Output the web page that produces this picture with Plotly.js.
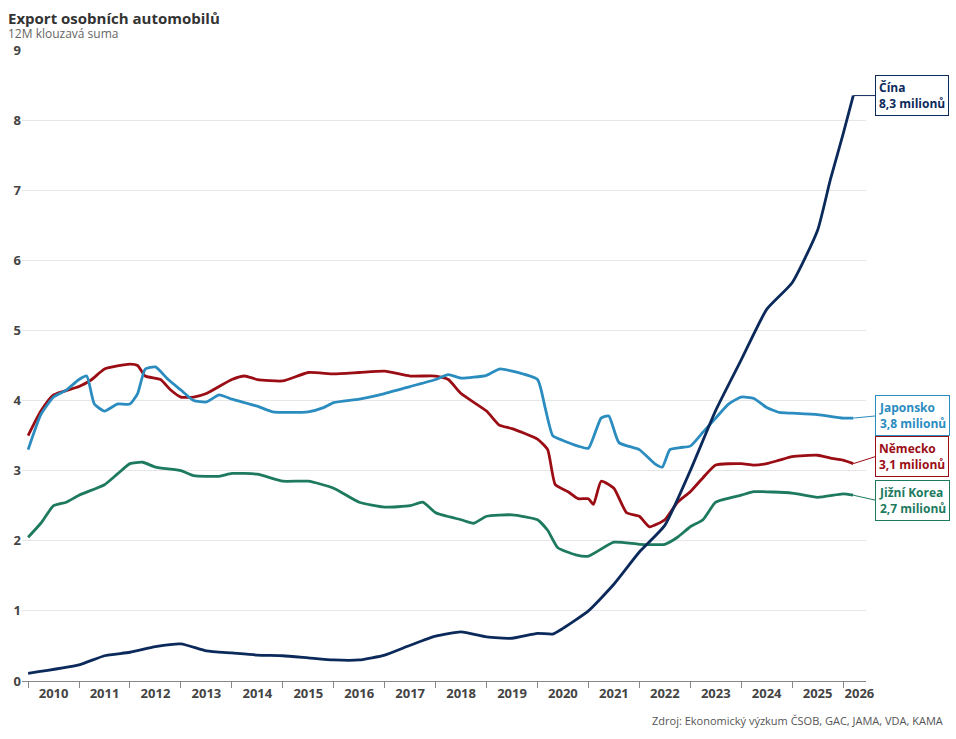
<!DOCTYPE html>
<html><head><meta charset="utf-8">
<script src="https://cdn.plot.ly/plotly-3.0.1.min.js"></script>
<style>body{margin:0}#chart{width:956px;height:739px}</style>
</head><body><div id="chart"></div>
<script>
// decimal years, 12M rolling sums in millions
var chinaX = [2010.0,2011.0,2011.5,2012.0,2012.5,2013.0,2013.5,2014.0,2014.5,2015.0,2015.5,2016.0,2016.5,2017.0,2017.5,2018.0,2018.5,2019.0,2019.5,2020.0,2020.3,2020.5,2021.0,2021.5,2022.0,2022.5,2023.0,2023.5,2024.0,2024.5,2025.0,2025.5,2025.75,2026.0,2026.2];
var chinaY = [0.11,0.23,0.36,0.41,0.49,0.53,0.43,0.40,0.37,0.36,0.33,0.30,0.30,0.37,0.51,0.64,0.70,0.63,0.61,0.68,0.67,0.75,1.0,1.38,1.84,2.22,3.0,3.86,4.58,5.3,5.68,6.43,7.15,7.8,8.35];

var japanX = [2010.0,2010.25,2010.5,2010.75,2011.0,2011.15,2011.3,2011.5,2011.75,2012.0,2012.15,2012.3,2012.5,2012.75,2013.0,2013.25,2013.5,2013.75,2014.0,2014.5,2014.8,2015.5,2015.8,2016.0,2016.5,2017.0,2017.5,2018.0,2018.25,2018.5,2019.0,2019.25,2019.5,2020.0,2020.15,2020.3,2020.5,2020.8,2021.0,2021.25,2021.4,2021.6,2022.0,2022.3,2022.45,2022.6,2022.8,2023.0,2023.25,2023.5,2023.75,2024.0,2024.25,2024.5,2024.75,2025.0,2025.5,2026.0,2026.2];
var japanY = [3.3,3.8,4.05,4.15,4.3,4.35,3.95,3.85,3.95,3.95,4.1,4.45,4.48,4.3,4.15,4.0,3.98,4.08,4.02,3.92,3.84,3.84,3.9,3.97,4.02,4.1,4.2,4.3,4.37,4.32,4.36,4.45,4.42,4.3,3.9,3.5,3.43,3.35,3.32,3.75,3.78,3.4,3.3,3.1,3.05,3.3,3.33,3.35,3.55,3.75,3.95,4.05,4.03,3.9,3.83,3.82,3.8,3.75,3.75];

var germanyX = [2010.0,2010.25,2010.5,2011.0,2011.25,2011.5,2012.0,2012.15,2012.3,2012.6,2012.8,2013.0,2013.25,2013.5,2014.0,2014.25,2014.5,2015.0,2015.5,2016.0,2016.5,2017.0,2017.5,2018.0,2018.25,2018.5,2019.0,2019.25,2019.5,2020.0,2020.2,2020.35,2020.6,2020.8,2021.0,2021.1,2021.25,2021.5,2021.75,2022.0,2022.2,2022.5,2022.75,2023.0,2023.25,2023.5,2024.0,2024.25,2024.5,2024.75,2025.0,2025.5,2025.75,2026.0,2026.2];
var germanyY = [3.5,3.85,4.08,4.2,4.3,4.45,4.52,4.5,4.35,4.3,4.15,4.05,4.05,4.1,4.3,4.35,4.3,4.28,4.4,4.38,4.4,4.42,4.35,4.35,4.3,4.1,3.85,3.65,3.6,3.45,3.3,2.8,2.7,2.6,2.6,2.52,2.85,2.75,2.4,2.35,2.2,2.3,2.55,2.7,2.9,3.08,3.1,3.08,3.1,3.15,3.2,3.22,3.18,3.15,3.1];

var koreaX = [2010.0,2010.25,2010.5,2010.75,2011.0,2011.5,2011.75,2012.0,2012.25,2012.5,2013.0,2013.25,2013.75,2014.0,2014.5,2015.0,2015.5,2016.0,2016.5,2017.0,2017.5,2017.75,2018.0,2018.5,2018.75,2019.0,2019.5,2020.0,2020.2,2020.4,2020.75,2021.0,2021.5,2022.0,2022.5,2022.75,2023.0,2023.25,2023.5,2024.0,2024.25,2025.0,2025.5,2026.0,2026.2];
var koreaY = [2.05,2.25,2.5,2.55,2.65,2.8,2.95,3.1,3.12,3.05,3.0,2.93,2.92,2.96,2.95,2.85,2.85,2.75,2.55,2.48,2.5,2.55,2.4,2.3,2.25,2.35,2.37,2.3,2.15,1.9,1.8,1.78,1.98,1.95,1.95,2.05,2.2,2.3,2.55,2.65,2.7,2.68,2.62,2.67,2.65];

var years = [2010,2011,2012,2013,2014,2015,2016,2017,2018,2019,2020,2021,2022,2023,2024,2025,2026];
var labels = [
  {name:'Čína', text:'8,3 milionů', color:'#0b2a5b', y:8.35, ly:8.35, ax:22},
  {name:'Japonsko', text:'3,8 milionů', color:'#2b8cbf', y:3.75, ly:3.78, ax:22},
  {name:'Německo', text:'3,1 milionů', color:'#9b0d14', y:3.1, ly:3.2, ax:22},
  {name:'Jižní Korea', text:'2,7 milionů', color:'#1d7a5e', y:2.65, ly:2.58, ax:22}
];

function line(x, y, c) {
  return {x: x, y: y, type: 'scatter', mode: 'lines', line: {color: c, width: 2.8, shape: 'spline', smoothing: 0.5}, hoverinfo: 'skip'};
}
var data = [line(koreaX, koreaY, '#1d7a5e'), line(germanyX, germanyY, '#9b0d14'), line(japanX, japanY, '#2b8cbf'), line(chinaX, chinaY, '#0b2a5b')];

var yscale = 70.1;
var annotations = labels.map(function (l) {
  return {
    x: 2026.2, y: l.y, xref: 'x', yref: 'y',
    text: '<b>' + l.name + '<br>' + l.text + '</b>',
    showarrow: true, arrowhead: 0, arrowwidth: 1, arrowcolor: l.color,
    ax: l.ax, ay: -(l.ly - l.y) * yscale, xanchor: 'left', align: 'left',
    font: {color: l.color, size: 12}, bordercolor: l.color, borderwidth: 1,
    borderpad: 3, bgcolor: '#fff'
  };
});
annotations.push({xref: 'paper', yref: 'paper', x: 1.094, y: -0.062, xanchor: 'right', yanchor: 'middle', showarrow: false,
  text: 'Zdroj: Ekonomický výzkum ČSOB, GAC, JAMA, VDA, KAMA', font: {size: 11, color: '#555'}});
annotations.push({xref: 'paper', yref: 'paper', x: -0.019, y: 1.05, xanchor: 'left', yanchor: 'middle', showarrow: false,
  text: '<b>Export osobních automobilů</b>', font: {size: 15, color: '#333'}});
annotations.push({xref: 'paper', yref: 'paper', x: -0.019, y: 1.026, xanchor: 'left', yanchor: 'middle', showarrow: false,
  text: '12M klouzavá suma', font: {size: 12, color: '#666'}});

var layout = {
  width: 956, height: 739,
  margin: {l: 22, r: 90, t: 50, b: 58},
  paper_bgcolor: '#fff', plot_bgcolor: '#fff',
  font: {family: 'Open Sans, sans-serif', color: '#444'},
  showlegend: false,
  xaxis: {
    range: [2009.88, 2026.45],
    tickmode: 'array',
    tickvals: years.map(function (y) { return y === 2026 ? 2026.32 : y + 0.5; }),
    ticktext: years.map(String),
    ticks: '', showgrid: false, zeroline: false,
    showline: true, linecolor: '#888', linewidth: 1,
    tickfont: {size: 13, color: '#444', weight: 'bold'},
    minor: {tickmode: 'linear', tick0: 2010, dtick: 1, ticks: 'outside', ticklen: 6, tickcolor: '#888', showgrid: false}
  },
  yaxis: {
    range: [0, 9], dtick: 1, showgrid: true, gridcolor: '#e6e6e6', zeroline: false,
    ticks: '', tickfont: {size: 13, color: '#444', weight: 'bold'}
  },
  annotations: annotations
};
Plotly.newPlot('chart', data, layout, {displayModeBar: false});
</script></body></html>
